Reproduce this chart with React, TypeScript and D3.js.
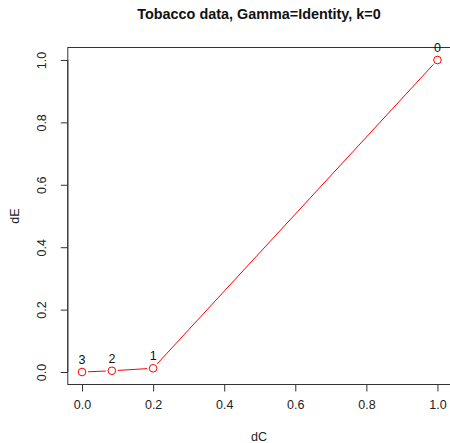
import React, { useEffect, useRef } from 'react';
import * as d3 from 'd3';

const dC = [1.0, 0.2, 0.084, 0.0];
const dE = [1.0, 0.012, 0.004, 0.0];
const labels = ['0', '1', '2', '3'];
const xTicks = [0, 0.2, 0.4, 0.6, 0.8, 1.0];
const yTicks = [0, 0.2, 0.4, 0.6, 0.8, 1.0];

const App: React.FC = () => {
  const svgRef = useRef<SVGSVGElement>(null);

  useEffect(() => {
    if (!svgRef.current) return;
    const W = 450, H = 443;
    const font = 'Liberation Sans, Arial, Helvetica, sans-serif';

    const svg = d3.select(svgRef.current);
    svg.selectAll('*').remove();
    svg.attr('width', W).attr('height', H).style('display', 'block').style('background', '#fff');

    // R style 4% padding
    const x = d3.scaleLinear().domain([-0.04, 1.04]).range([67.8, 451.7]);
    const y = d3.scaleLinear().domain([-0.04, 1.04]).range([384.5, 47.5]);

    svg.append('rect')
      .attr('x', x(-0.04)).attr('y', y(1.04))
      .attr('width', x(1.04) - x(-0.04)).attr('height', y(-0.04) - y(1.04))
      .attr('fill', 'none').attr('stroke', '#333').attr('stroke-width', 1);

    const xAxis = svg.append('g')
      .attr('transform', `translate(0,${y(-0.04)})`)
      .call(d3.axisBottom(x).tickValues(xTicks).tickFormat(d3.format('.1f')).tickSize(7).tickPadding(9));
    xAxis.select('.domain').attr('d', `M${x(0)},0H${x(1)}`).attr('stroke', '#333');
    xAxis.selectAll('.tick line').attr('stroke', '#333');
    xAxis.selectAll('text').attr('font-family', font).attr('font-size', 12.5).attr('fill', '#222');

    const yAxis = svg.append('g')
      .attr('transform', `translate(${x(-0.04)},0)`)
      .call(d3.axisLeft(y).tickValues(yTicks).tickFormat(d3.format('.1f')).tickSize(7).tickPadding(0));
    yAxis.select('.domain').attr('d', `M0,${y(0)}V${y(1)}`).attr('stroke', '#333');
    yAxis.selectAll('.tick line').attr('stroke', '#333');
    yAxis.selectAll('text')
      .attr('x', 0).attr('dy', null)
      .attr('transform', 'translate(-22,0) rotate(-90)')
      .attr('text-anchor', 'middle')
      .attr('font-family', font).attr('font-size', 12.5).attr('fill', '#222');

    const pts = dC.map((c, i) => ({ x: x(c), y: y(dE[i]), label: labels[i] }));
    const r = 3.8;
    const gap = 6;
    for (let i = 0; i < pts.length - 1; i++) {
      const a = pts[i], b = pts[i + 1];
      const dx = b.x - a.x, dy = b.y - a.y;
      const len = Math.hypot(dx, dy);
      if (len <= 2 * gap) continue;
      const ux = dx / len, uy = dy / len;
      svg.append('line')
        .attr('x1', a.x + ux * gap).attr('y1', a.y + uy * gap)
        .attr('x2', b.x - ux * gap).attr('y2', b.y - uy * gap)
        .attr('stroke', '#ff0000').attr('stroke-width', 1);
    }

    svg.selectAll('circle.pt').data(pts).enter().append('circle')
      .attr('class', 'pt')
      .attr('cx', d => d.x).attr('cy', d => d.y).attr('r', r)
      .attr('fill', 'none').attr('stroke', '#ff0000').attr('stroke-width', 1);

    svg.selectAll('text.lab').data(pts).enter().append('text')
      .attr('class', 'lab')
      .attr('x', d => d.x).attr('y', d => d.y - 8)
      .attr('text-anchor', 'middle')
      .attr('font-family', font).attr('font-size', 12.5).attr('fill', '#111')
      .text(d => d.label);

    svg.append('text')
      .attr('x', 259).attr('y', 19)
      .attr('text-anchor', 'middle')
      .attr('font-family', font).attr('font-size', 14.4).attr('font-weight', 'bold').attr('fill', '#111')
      .text('Tobacco data, Gamma=Identity, k=0');

    svg.append('text')
      .attr('x', 259).attr('y', 441)
      .attr('text-anchor', 'middle')
      .attr('font-family', font).attr('font-size', 12.5).attr('fill', '#222')
      .text('dC');

    svg.append('text')
      .attr('transform', `translate(19,${(y(0) + y(1)) / 2}) rotate(-90)`)
      .attr('text-anchor', 'middle')
      .attr('font-family', font).attr('font-size', 12.5).attr('fill', '#222')
      .text('dE');
  }, []);

  return (
    <div style={{ position: 'absolute', left: 0, top: 0 }}>
      <svg ref={svgRef}></svg>
    </div>
  );
};

export default App;
